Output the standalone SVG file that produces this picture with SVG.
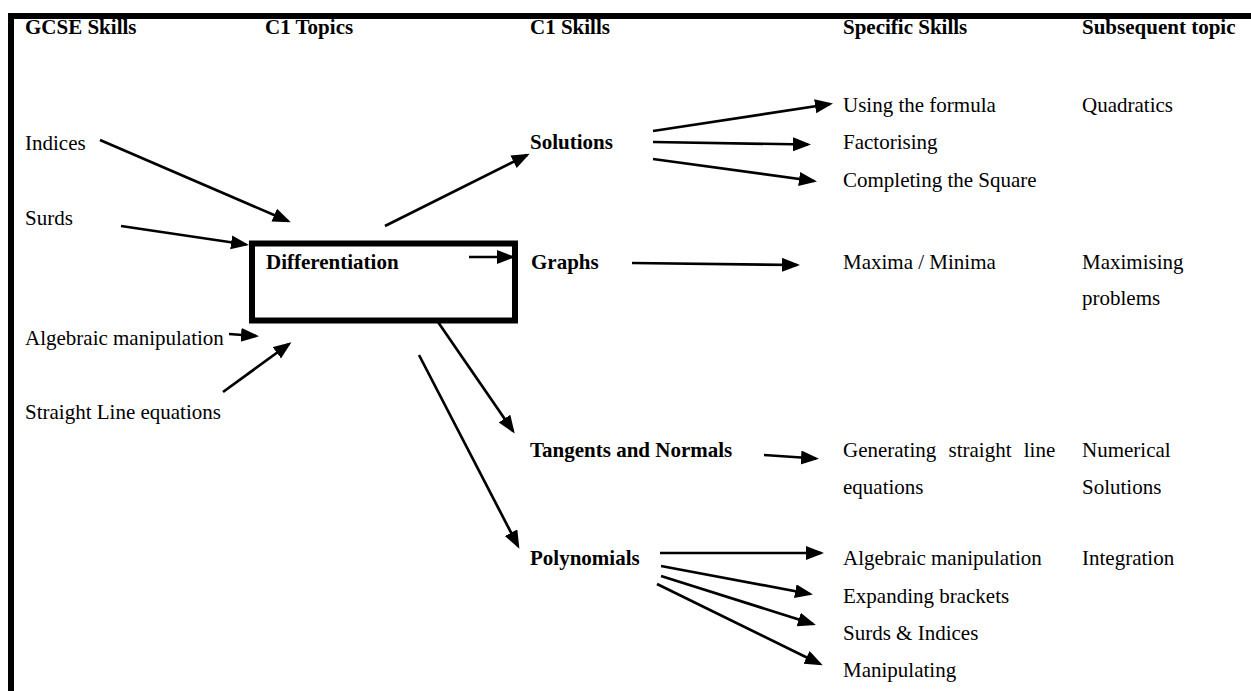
<svg xmlns="http://www.w3.org/2000/svg" width="1251" height="691" viewBox="0 0 1251 691">
<defs>
<style>
text{font-family:"Liberation Serif","Times New Roman",serif;font-size:21px;fill:#000}
.b{font-weight:bold}
.c line{stroke:#000;stroke-width:2.7;marker-end:url(#ah)}
</style>
<marker id="ah" markerUnits="userSpaceOnUse" markerWidth="20" markerHeight="16" refX="15" refY="7" orient="auto">
<path d="M0,0 L18,7 L0,14 z" fill="#000"/>
</marker>
</defs>
<rect width="1251" height="691" fill="#fff"/>
<g id="frame">
<rect x="8" y="13" width="1243" height="6" fill="#000"/>
<rect x="8" y="13" width="6" height="678" fill="#000"/>
</g>
<g id="headers">
<text class="b" x="25" y="34">GCSE Skills</text>
<text class="b" x="265" y="34">C1 Topics</text>
<text class="b" x="530" y="34">C1 Skills</text>
<text class="b" x="843" y="34">Specific Skills</text>
<text class="b" x="1082" y="34">Subsequent topic</text>
</g>
<g id="gcse-indices"><text x="25" y="150">Indices</text></g>
<g id="gcse-surds"><text x="25" y="225">Surds</text></g>
<g id="gcse-algebraic"><text x="25" y="345">Algebraic manipulation</text></g>
<g id="gcse-straight"><text x="25" y="419">Straight Line equations</text></g>
<g id="differentiation">
<rect x="252" y="243.5" width="263" height="77" fill="none" stroke="#000" stroke-width="6"/>
<text class="b" x="266" y="269">Differentiation</text>
</g>
<g id="solutions"><text class="b" x="530" y="149">Solutions</text></g>
<g id="graphs"><text class="b" x="531" y="269">Graphs</text></g>
<g id="tangents"><text class="b" x="530" y="457">Tangents and Normals</text></g>
<g id="polynomials"><text class="b" x="530" y="565">Polynomials</text></g>
<g id="s-formula"><text x="843" y="112">Using the formula</text></g>
<g id="s-factorising"><text x="843" y="149">Factorising</text></g>
<g id="s-completing"><text x="843" y="187">Completing the Square</text></g>
<g id="s-maxmin"><text x="843" y="269">Maxima / Minima</text></g>
<g id="s-generating"><text x="843" y="457" word-spacing="7">Generating straight line</text><text x="843" y="494">equations</text></g>
<g id="s-algebraic"><text x="843" y="565">Algebraic manipulation</text></g>
<g id="s-expanding"><text x="843" y="603">Expanding brackets</text></g>
<g id="s-surds"><text x="843" y="640">Surds &amp; Indices</text></g>
<g id="s-manipulating"><text x="843" y="677">Manipulating</text></g>
<g id="t-quadratics"><text x="1082" y="112">Quadratics</text></g>
<g id="t-maximising"><text x="1082" y="269">Maximising</text><text x="1082" y="305">problems</text></g>
<g id="t-numerical"><text x="1082" y="457">Numerical</text><text x="1082" y="494">Solutions</text></g>
<g id="t-integration"><text x="1082" y="565">Integration</text></g>
<g id="connectors" class="c">
<line x1="100" y1="140" x2="288" y2="221"/>
<line x1="121" y1="226" x2="246" y2="244.5"/>
<line x1="229" y1="334" x2="256" y2="336"/>
<line x1="223" y1="392" x2="289" y2="344"/>
<line x1="385" y1="226" x2="527" y2="155"/>
<line x1="469" y1="257" x2="512" y2="257"/>
<line x1="438" y1="322" x2="513" y2="431"/>
<line x1="419" y1="355" x2="518" y2="546"/>
<line x1="653" y1="131" x2="830" y2="104"/>
<line x1="653" y1="142" x2="808" y2="144.5"/>
<line x1="653" y1="159" x2="814" y2="181"/>
<line x1="632" y1="263" x2="797" y2="265"/>
<line x1="764" y1="455" x2="816" y2="458.5"/>
<line x1="660" y1="553" x2="821" y2="553"/>
<line x1="661" y1="566" x2="810" y2="594"/>
<line x1="661" y1="576" x2="813" y2="624"/>
<line x1="657" y1="584" x2="820" y2="664"/>
</g>
</svg>
